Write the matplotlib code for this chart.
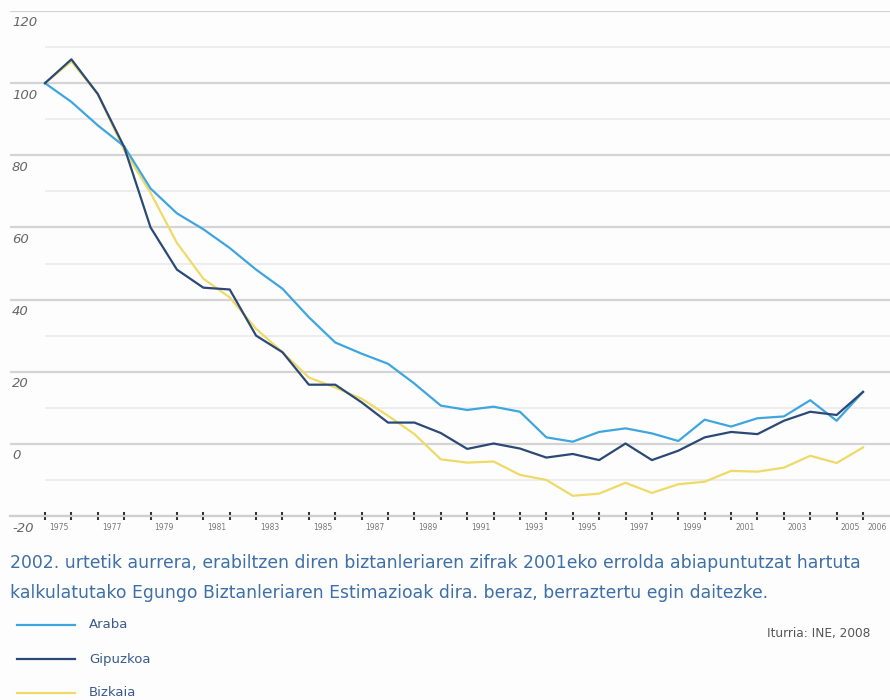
import matplotlib
matplotlib.use("Agg")
import matplotlib.pyplot as plt
from matplotlib import font_manager
from matplotlib.lines import Line2D

years = list(range(1975, 2007))
araba = [100, 94.8, 88.3, 82.5, 70.8, 63.9, 59.5, 54.3, 48.3, 43.0, 35.1, 28.1, 25.0, 22.2, 16.7, 10.6,
         9.4, 10.3, 8.9, 1.8, 0.6, 3.3, 4.3, 2.9, 0.8, 6.7, 4.8, 7.1, 7.6, 12.1, 6.4, 14.4]
gipuzkoa = [100, 106.6, 97.0, 82.3, 60.0, 48.3, 43.3, 42.8, 30.0, 25.4, 16.4, 16.4, 11.5, 5.9, 5.9, 3.0,
            -1.4, 0.1, -1.3, -3.8, -2.8, -4.5, 0.1, -4.5, -1.9, 1.8, 3.3, 2.7, 6.4, 8.9, 8.0, 14.4]
bizkaia = [100, 106.0, 97.0, 81.4, 69.6, 55.7, 45.8, 40.6, 31.9, 25.4, 18.4, 15.6, 12.5, 7.8, 2.7, -4.3,
           -5.2, -4.9, -8.6, -10.0, -14.4, -13.8, -10.8, -13.6, -11.2, -10.5, -7.5, -7.7, -6.6, -3.3, -5.3, -1.0]
series_names = ["Araba", "Gipuzkoa", "Bizkaia"]
series_colors = ["#3ea6df", "#2b4977", "#efda68"]
y_major = [120, 100, 80, 60, 40, 20, 0, -20]
y_minor = [110, 90, 70, 50, 30, 10, -10]
x_labels = [y for y in years if y % 2 == 1] + [2006]
caption1 = "2002. urtetik aurrera, erabiltzen diren biztanleriaren zifrak 2001eko errolda abiapuntutzat hartuta"
caption2 = "kalkulatutako Egungo Biztanleriaren Estimazioak dira. beraz, berraztertu egin daitezke."
source = "Iturria: INE, 2008"

avail = {f.name for f in font_manager.fontManager.ttflist}
narrow = "Liberation Sans Narrow" if "Liberation Sans Narrow" in avail else "DejaVu Sans"

W, H = 890, 700
fig = plt.figure(figsize=(W / 100, H / 100), dpi=100)
fig.patch.set_facecolor("#fdfdfd")

left_px, right_px, top_px, bot_px = 10, 890, 11, 516
ax = fig.add_axes([left_px / W, 1 - bot_px / H, (right_px - left_px) / W, (bot_px - top_px) / H])
ax.set_facecolor("#fdfdfd")
px_per_year = (863 - 45) / 31
ax.set_xlim(1975 - (45 - left_px) / px_per_year, 2006 + (right_px - 863) / px_per_year)
ax.set_ylim(-20, 120)

for v in y_major:
    ax.axhline(v, color="#d4d4d4", lw=1.6, zorder=1)
for v in y_minor:
    ax.hlines(v, 1975, ax.get_xlim()[1], color="#ececec", lw=1.3, zorder=1)

ax.plot(years, bizkaia, color=series_colors[2], lw=1.6, zorder=3)
ax.plot(years, araba, color=series_colors[0], lw=1.6, zorder=4)
ax.plot(years, gipuzkoa, color=series_colors[1], lw=1.6, zorder=5)

for s in ["top", "right", "left"]:
    ax.spines[s].set_visible(False)
ax.spines["bottom"].set_color("#cfcfcf")
ax.spines["bottom"].set_linewidth(1.6)
ax.set_yticks([])
ax.set_xticks(years)
ax.set_xticklabels([])
ax.tick_params(axis="x", direction="inout", length=6, width=1.5, color="#333333")

for v in y_major:
    ax.annotate(str(v), xy=(0, v), xycoords=("axes fraction", "data"),
                xytext=(2, -12), textcoords="offset pixels", ha="left", va="center",
                fontsize=9.5, style="italic", color="#666666")

for yv in x_labels:
    ax.annotate(str(yv), xy=(yv, -20), xycoords="data", xytext=(4, -11),
                textcoords="offset pixels", ha="left", va="center", fontsize=5.5, color="#777777")

cap_color = "#3d6fa8"
t1 = fig.text(10 / W, 1 - 563 / H, caption1, fontsize=13.5, color=cap_color, family=narrow, va="center", ha="left")
t2 = fig.text(10 / W, 1 - 593 / H, caption2, fontsize=13.5, color=cap_color, family=narrow, va="center", ha="left")
renderer = fig.canvas.get_renderer()
w1 = t1.get_window_extent(renderer).width
fs = 13.5 * 850 / w1
t1.set_fontsize(fs)
t2.set_fontsize(fs)

leg_y = [625, 659, 693]
for yy, name, col in zip(leg_y, series_names, series_colors):
    fig.add_artist(Line2D([17 / W, 75 / W], [1 - yy / H, 1 - yy / H], color=col, lw=1.6))
    fig.text(89 / W, 1 - yy / H, name, fontsize=9.5, color="#3a5a8c", family=narrow, va="center", ha="left")

fig.text(870 / W, 1 - 633 / H, source, fontsize=8.7, color="#555555", family=narrow, va="center", ha="right")

fig.savefig("out.png", dpi=100, facecolor=fig.get_facecolor())
